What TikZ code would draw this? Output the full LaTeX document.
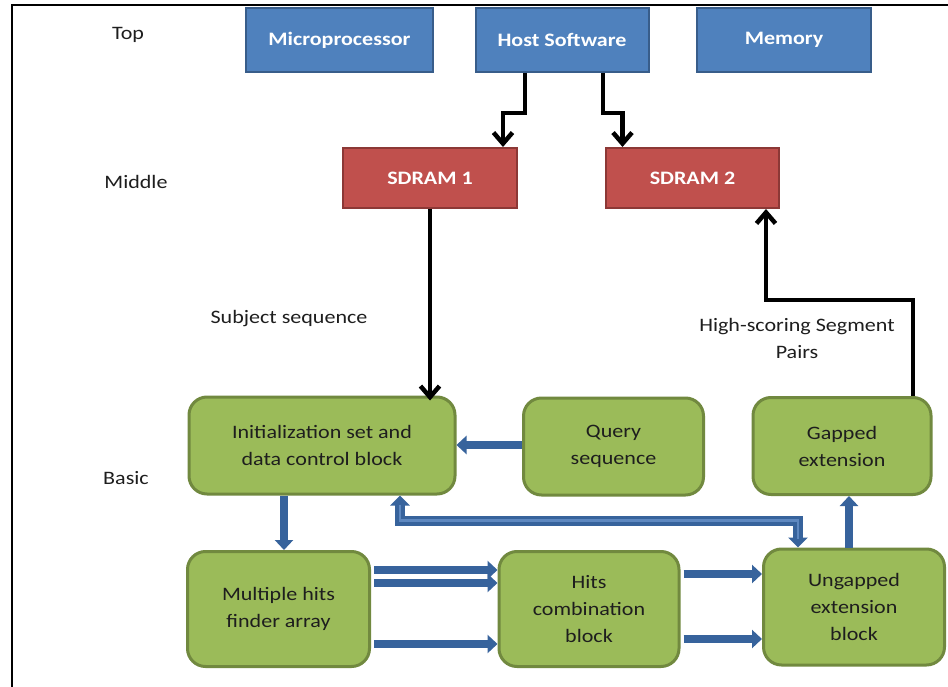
\documentclass[tikz,border=0pt]{standalone}
\usepackage{fontspec}
\setmainfont[FakeStretch=1.16]{Carlito}
\usetikzlibrary{arrows.meta,calc}
\definecolor{topfill}{HTML}{4F81BD}
\definecolor{topdraw}{HTML}{385D8A}
\definecolor{redfill}{HTML}{C0504D}
\definecolor{reddraw}{HTML}{8C3836}
\definecolor{grnfill}{HTML}{9BBB59}
\definecolor{grndraw}{HTML}{71893F}
\definecolor{arrblue}{HTML}{37639C}
\definecolor{arrlight}{HTML}{5E88C0}
\definecolor{txtdark}{HTML}{1E1E1E}
\begin{document}
\begin{tikzpicture}[x=1pt,y=-1pt,
  every node/.style={font=\fontsize{19}{27}\selectfont, inner sep=0pt, align=center},
  topbox/.style={draw=topdraw, fill=topfill, line width=2pt, text=white,
    font=\fontsize{19}{27}\selectfont\bfseries, minimum height=64pt},
  redbox/.style={draw=reddraw, fill=redfill, line width=2pt, text=white,
    font=\fontsize{19}{27}\selectfont\bfseries, minimum height=60pt},
  grnbox/.style={draw=grndraw, fill=grnfill, line width=3pt, text=txtdark,
    rounded corners=18pt},
  lbl/.style={text=txtdark},
  blk/.style={line width=4.5pt, -{Straight Barb[length=11pt,width=19pt]}},
  barrow/.style={draw=arrblue, line width=7.5pt, -{Triangle[length=10pt,width=18pt]}},
]
\useasboundingbox (0,0) rectangle (948,687);
\fill[white] (0,0) rectangle (948,687);
\draw[line width=2.5pt] (12,687) -- (12,5) -- (948,5);

% labels
\node[lbl] (ltop) at (128,35) {Top};
\node[lbl] (lmid) at (136,182) {Middle};
\node[lbl] (lbas) at (126,478) {Basic};
\node[lbl] (lsub) at (289,319) {Subject sequence};
\node[lbl] (lhsp) at (797,338) {High-scoring Segment\\Pairs};

% top boxes
\node[topbox, minimum width=187pt] (micro) at (339.5,40) {Microprocessor};
\node[topbox, minimum width=173pt] (host) at (562,40) {Host Software};
\node[topbox, minimum width=174pt] (mem) at (784,40) {Memory};

% middle
\node[redbox, minimum width=174pt] (sd1) at (430,178) {SDRAM 1};
\node[redbox, minimum width=173pt] (sd2) at (692.5,178) {SDRAM 2};

% basic
\node[grnbox, minimum width=266pt, minimum height=97pt] (init) at (322,445.5) {Initialization set and\\data control block};
\node[grnbox, minimum width=180pt, minimum height=97pt] (query) at (613.5,446.5) {Query\\sequence};
\node[grnbox, minimum width=178pt, minimum height=97pt] (gapped) at (842,446) {Gapped\\extension};
\node[grnbox, minimum width=182pt, minimum height=115pt] (mult) at (278.5,609) {Multiple hits\\finder array};
\node[grnbox, minimum width=180pt, minimum height=115pt] (hits) at (589,609) {Hits\\combination\\block};
\node[grnbox, minimum width=181pt, minimum height=116pt] (ungap) at (854,607) {Ungapped\\extension\\block};

% black arrows
\draw[blk] ($(host.south)+(-37,0)$) -- ++(0,40) -| ($(sd1.north)+(73,0)$);
\draw[blk] ($(host.south)+(41,0)$) -- ++(0,40) -| ($(sd2.north)+(-70,0)$);
\draw[blk] (sd1.south) -- ($(sd1.south |- init.north)+(0,5)$);
\draw[blk] ($(gapped.north)+(71,0)$) -- ++(0,-96) -| ($(sd2.south)+(73.5,0)$);

% blue arrows
\draw[barrow] ($(query.west)+(0,-1.5)$) coordinate (a0) -- (a0 -| init.east);
\draw[barrow] ($(init.south)+(-38,0)$) coordinate (a1) -- (a1 |- mult.north);
\draw[barrow] ($(mult.east)+(3,-39)$) coordinate (a2) -- (a2 -| hits.west);
\draw[barrow] ($(mult.east)+(3,-26)$) coordinate (a3) -- (a3 -| hits.west);
\draw[barrow] ($(mult.east)+(3,35)$) coordinate (a4) -- (a4 -| hits.west);
\draw[barrow] ($(hits.east)+(3,-35)$) coordinate (a5) -- (a5 -| ungap.west);
\draw[barrow] ($(hits.east)+(3,30)$) coordinate (a6) -- (a6 -| ungap.west);
\draw[barrow] ($(ungap.north)+(-5,0)$) coordinate (a7) -- (a7 |- gapped.south);

% feedback loop (double line)
\draw[arrblue, line width=10pt, {Triangle[length=10pt,width=19pt]}-{Triangle[length=10pt,width=19pt]}]
  ($(init.south)+(78,0)$) -- ++(0,25) -| ($(ungap.north)+(-56,0)$);
\draw[arrlight, line width=2.5pt, shorten <=9pt, shorten >=9pt]
  ($(init.south)+(78,0)$) -- ++(0,25) -| ($(ungap.north)+(-56,0)$);
\end{tikzpicture}
\end{document}
